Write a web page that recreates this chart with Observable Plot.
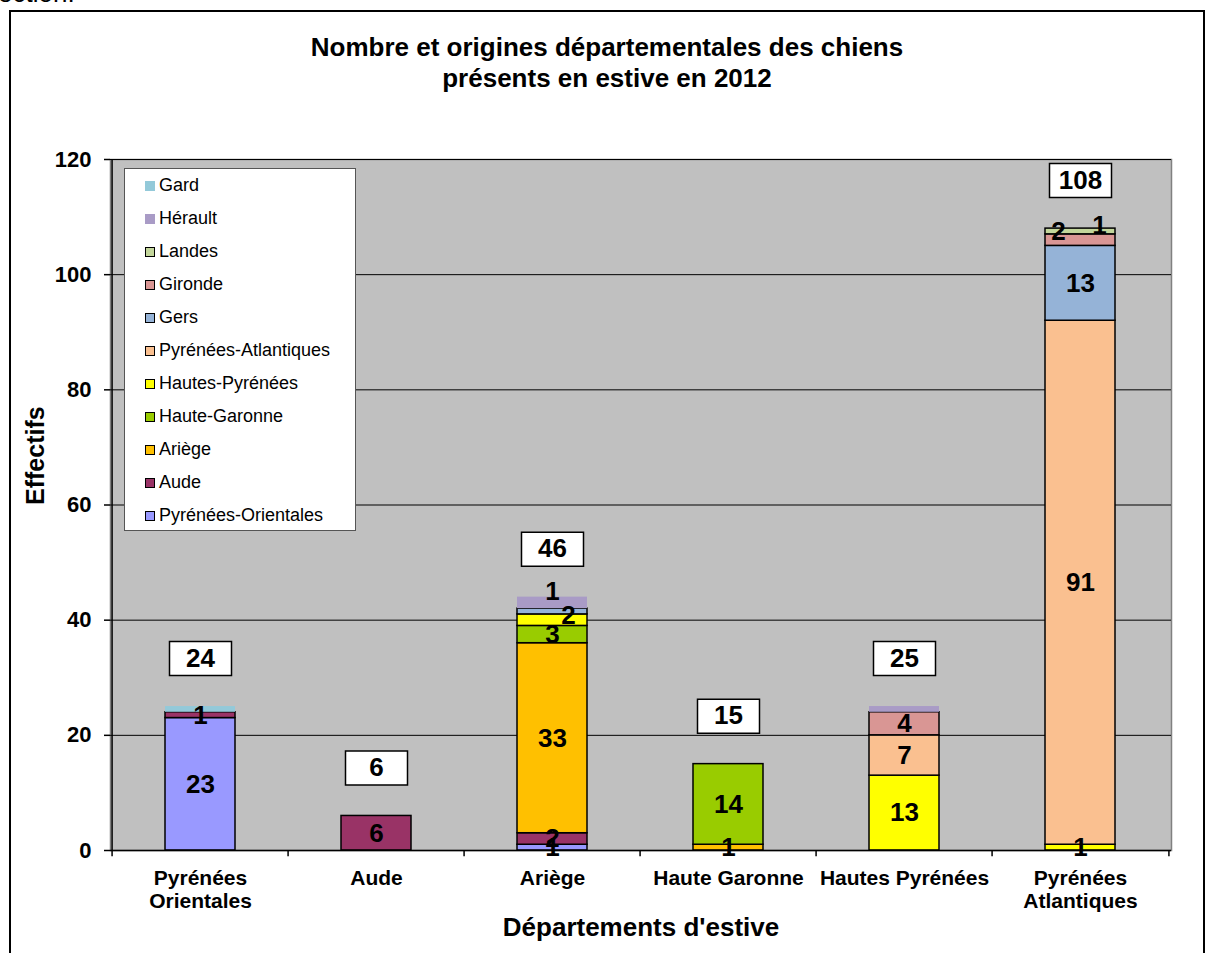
<!DOCTYPE html>
<html>
<head>
<meta charset="utf-8">
<script src="https://cdn.jsdelivr.net/npm/d3@7"></script>
<script src="https://cdn.jsdelivr.net/npm/@observablehq/plot@0.6"></script>
<style>
  body { margin: 0; background: #fff; font-family: "Liberation Sans", Arial, sans-serif; }
  #root { position: relative; width: 1207px; height: 953px; overflow: hidden; background: #fff; }
  #cut { position: absolute; left: -2px; top: -20px; font-size: 26px; line-height: 26px; color: #000; white-space: nowrap; }
  #frame { position: absolute; left: 9px; top: 10px; width: 1196px; height: 1000px; border: 2px solid #000; box-sizing: border-box; pointer-events: none; }
  #title { position: absolute; left: 9px; width: 1196px; top: 32px; text-align: center; font-weight: bold; font-size: 26px; line-height: 31px; color: #000; }
  #chart { position: absolute; left: 0; top: 100px; }
  #legend { position: absolute; left: 124px; top: 168px; width: 232px; height: 363px; background: #fff; border: 1.5px solid #555; box-sizing: border-box; }
  .item { position: absolute; left: 0; height: 33px; display: flex; align-items: center; font-size: 18px; color: #000; white-space: nowrap; }
  .sw { display: inline-block; width: 10px; height: 10px; box-sizing: border-box; margin-left: 20px; margin-right: 4px; }
</style>
</head>
<body>
<div id="root">
  <div id="cut">ection.</div>
  <div id="title">Nombre et origines départementales des chiens<br>présents en estive en 2012</div>
  <div id="chart"></div>
  <div id="legend"></div>
  <div id="frame"></div>
</div>
<script>
// ---- Data ----
const departements = ["Pyrénées Orientales", "Aude", "Ariège", "Haute Garonne", "Hautes Pyrénées", "Pyrénées Atlantiques"];
const tickLabels = ["Pyrénées\nOrientales", "Aude", "Ariège", "Haute Garonne", "Hautes Pyrénées", "Pyrénées\nAtlantiques"];
// origins, stacking order bottom -> top
const origines = ["Pyrénées-Orientales", "Aude", "Ariège", "Haute-Garonne", "Hautes-Pyrénées", "Pyrénées-Atlantiques", "Gers", "Gironde", "Landes", "Hérault", "Gard"];
const couleurs = ["#9999FF", "#993366", "#FFC000", "#99CC00", "#FFFF00", "#FAC090", "#95B3D7", "#D99694", "#C3D69B", "#A99BC6", "#93C9D9"];
// values per origin, one per département d'estive (same order as departements)
const vPyreneesOrientales = [23, 0, 1, 0, 0, 0];
const vAude               = [1, 6, 2, 0, 0, 0];
const vAriege             = [0, 0, 33, 1, 0, 0];
const vHauteGaronne       = [0, 0, 3, 14, 0, 0];
const vHautesPyrenees     = [0, 0, 2, 0, 13, 1];
const vPyreneesAtlantiques= [0, 0, 0, 0, 7, 91];
const vGers               = [0, 0, 1, 0, 0, 13];
const vGironde            = [0, 0, 0, 0, 4, 2];
const vLandes             = [0, 0, 0, 0, 0, 1];
const vHerault            = [0, 0, 2, 0, 1, 0];
const vGard               = [1, 0, 0, 0, 0, 0];
const totaux = [24, 6, 46, 15, 25, 108];
const yTicks = [0, 20, 40, 60, 80, 100, 120];
const sansContour = ["Hérault", "Gard"];

const valeurs = [vPyreneesOrientales, vAude, vAriege, vHauteGaronne, vHautesPyrenees, vPyreneesAtlantiques, vGers, vGironde, vLandes, vHerault, vGard];

const rows = [];
origines.forEach((o, k) => departements.forEach((d, i) => {
  if (valeurs[k][i] > 0) rows.push({dept: d, origin: o, value: valeurs[k][i]});
}));
const totalsData = departements.map((d, i) => ({
  dept: d, label: String(totaux[i]),
  top: d3.sum(rows.filter(r => r.dept === d), r => r.value)
}));

// label nudges where Excel moved overlapping labels
const nudges = [
  {dept: "Ariège", origin: "Gers", dx: 0, dy: -20},
  {dept: "Ariège", origin: "Hautes-Pyrénées", dx: 16, dy: -4},
  {dept: "Pyrénées Atlantiques", origin: "Gironde", dx: -22, dy: -8},
  {dept: "Pyrénées Atlantiques", origin: "Landes", dx: 19, dy: -6}
];
const isNudged = r => nudges.some(n => n.dept === r.dept && n.origin === r.origin);

// ---- Layout ----
const W = 1207, H = 853, mL = 110, mR = 36, mT = 59, mB = 103;
const step = (W - mL - mR) / departements.length;

const labelMark = (filterFn, dx, dy) => Plot.text(rows, Plot.stackY({
  x: "dept", y: "value", z: "origin", order: origines,
  text: r => (filterFn(r) ? String(r.value) : ""),
  fontSize: 26, fontWeight: "bold", fill: "black", dx, dy
}));

const boxSymbol = {
  draw(ctx) {
    ctx.moveTo(-31, -17); ctx.lineTo(31, -17); ctx.lineTo(31, 17); ctx.lineTo(-31, 17); ctx.closePath();
  }
};

const plot = Plot.plot({
  width: W, height: H,
  marginLeft: mL, marginRight: mR, marginTop: mT, marginBottom: mB,
  style: {fontFamily: "'Liberation Sans', Arial, sans-serif", color: "black", background: "transparent", overflow: "visible"},
  x: {domain: departements, paddingInner: 0.6, paddingOuter: 0.3, align: 0.5},
  y: {domain: [0, 120]},
  color: {domain: origines, range: couleurs},
  opacity: {domain: [0, 1], range: [0, 1]},
  marks: [
    Plot.frame({fill: "#C0C0C0", stroke: "#808080", strokeWidth: 1.5}),
    Plot.ruleY(yTicks.filter(t => t > 0), {stroke: "black", strokeWidth: 1}),
    Plot.barY(rows, {
      x: "dept", y: "value", fill: "origin", z: "origin", order: origines,
      stroke: "black", strokeWidth: 1.5,
      strokeOpacity: r => (sansContour.includes(r.origin) ? 0 : 1)
    }),
    Plot.ruleY([0], {stroke: "black", strokeWidth: 1.5}),
    Plot.ruleX([departements[0]], {dx: -step / 2, y1: 0, y2: 120, stroke: "black", strokeWidth: 1.5}),
    Plot.ruleX(departements, {dx: -step / 2, y1: 0, y2: -1.1, stroke: "black", strokeWidth: 1.5}),
    Plot.ruleX([departements[departements.length - 1]], {dx: step / 2, y1: 0, y2: -1.1, stroke: "black", strokeWidth: 1.5}),
    labelMark(r => !sansContour.includes(r.origin) && !isNudged(r), 0, 0),
    ...nudges.map(n => labelMark(r => r.dept === n.dept && r.origin === n.origin, n.dx, n.dy)),
    Plot.dot(totalsData, {x: "dept", y: "top", dy: -48, symbol: boxSymbol, fill: "white", stroke: "black", strokeWidth: 1.5}),
    Plot.text(totalsData, {x: "dept", y: "top", dy: -48, text: "label", fontSize: 26, fontWeight: "bold", fill: "black"}),
    Plot.axisY({ticks: yTicks, tickSize: 6, tickPadding: 13, fontSize: 22, fontWeight: "bold", label: null, stroke: "black", strokeWidth: 1.5}),
    Plot.axisX({tickSize: 0, tickPadding: 18, fontSize: 21, fontWeight: "bold", label: null, lineHeight: 1.1,
      tickFormat: d => tickLabels[departements.indexOf(d)]}),
    Plot.text(["Effectifs"], {frameAnchor: "left", dx: -75, rotate: -90, text: d => d, fontSize: 25, fontWeight: "bold", fill: "black"}),
    Plot.text(["Départements d'estive"], {frameAnchor: "bottom", dy: 85, text: d => d, fontSize: 26, fontWeight: "bold", fill: "black"})
  ]
});
document.getElementById("chart").appendChild(plot);

// ---- Legend (top item = last stacked series) ----
const colorScale = plot.scale("color");
const legend = d3.select("#legend");
origines.slice().reverse().forEach((o, i) => {
  const item = legend.append("div").attr("class", "item").style("top", `${i * 33}px`);
  item.append("span").attr("class", "sw")
    .style("background", colorScale.apply(o))
    .style("border", sansContour.includes(o) ? "none" : "1.5px solid #000");
  item.append("span").text(o);
});
</script>
</body>
</html>
